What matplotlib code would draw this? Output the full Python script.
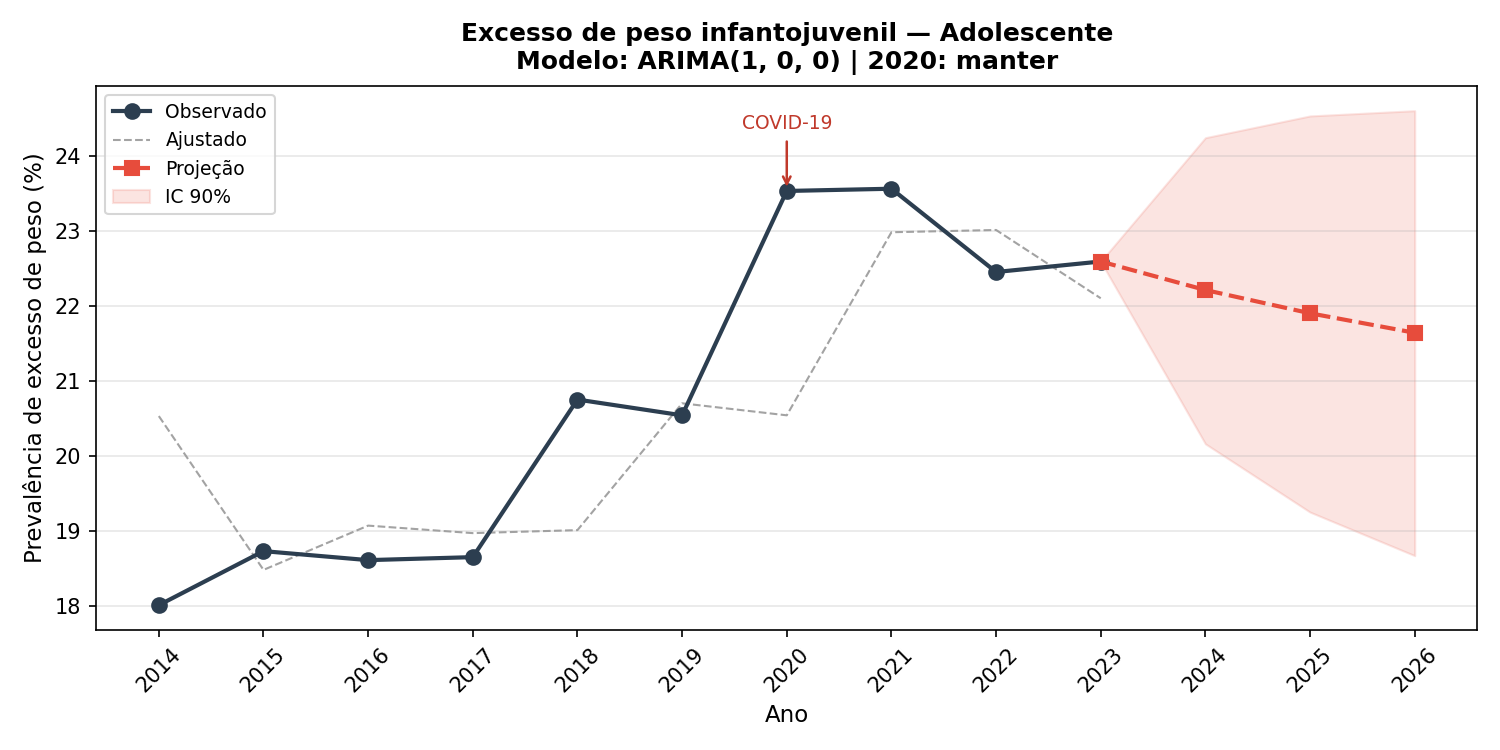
import matplotlib
matplotlib.use('Agg')
import matplotlib.pyplot as plt

# dados observados
anos = [2014, 2015, 2016, 2017, 2018, 2019, 2020, 2021, 2022, 2023]
observado = [18.01, 18.73, 18.61, 18.65, 20.75, 20.54, 23.53, 23.56, 22.45, 22.59]
ajustado = [20.53, 18.48, 19.07, 18.97, 19.01, 20.70, 20.54, 22.98, 23.01, 22.10]

# projeção
anos_proj = [2023, 2024, 2025, 2026]
projecao = [22.59, 22.21, 21.90, 21.64]
ic_inf = [22.59, 20.16, 19.25, 18.67]
ic_sup = [22.59, 24.24, 24.53, 24.60]

fig, ax = plt.subplots(figsize=(10, 5), dpi=150)

ax.plot(anos, observado, '-o', color='#2c3e50', linewidth=2, markersize=7,
        label='Observado', zorder=3)
ax.plot(anos, ajustado, '--', color='#999999', linewidth=1, alpha=0.9,
        label='Ajustado', zorder=2)
ax.plot(anos_proj, projecao, '--s', color='#e74c3c', linewidth=2, markersize=7,
        label='Projeção', zorder=4)
ax.fill_between(anos_proj, ic_inf, ic_sup, color='#e74c3c', alpha=0.15,
                label='IC 90%', zorder=1)

ax.annotate('COVID-19', xy=(2020, observado[6]), xytext=(2020, 24.3),
            ha='center', va='bottom', color='#c0392b', fontsize=9,
            arrowprops=dict(arrowstyle='->', color='#c0392b', lw=1.2))

ax.set_xticks(anos + anos_proj[1:])
ax.tick_params(axis='x', rotation=45)
ax.set_xlabel('Ano', fontsize=11)
ax.set_ylabel('Prevalência de excesso de peso (%)', fontsize=11)
ax.set_title('Excesso de peso infantojuvenil — Adolescente\nModelo: ARIMA(1, 0, 0) | 2020: manter',
             fontweight='bold', pad=8)
ax.grid(axis='y', alpha=0.3)
ax.legend(loc='upper left', fontsize=9)

plt.tight_layout()
plt.savefig('out.png', dpi=150)
